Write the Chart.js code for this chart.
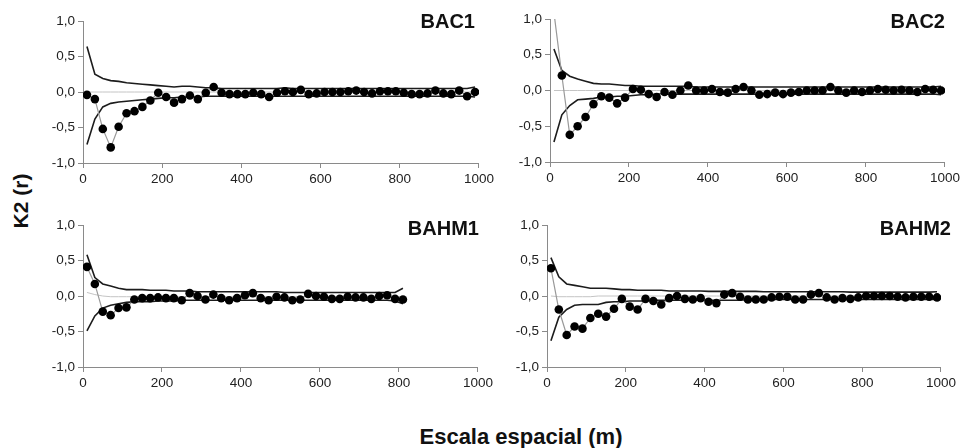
<!DOCTYPE html>
<html lang="es">
<head>
    <meta charset="UTF-8">
    <title>K2 (r) - Escala espacial</title>
    <script src="https://cdn.jsdelivr.net/npm/chart.js"></script>
    <style>
        body { margin: 0; background: #fff; width: 967px; height: 448px; position: relative; overflow: hidden; font-family: "Liberation Sans", Arial, sans-serif; }
        canvas { position: absolute; }
        .axis-title { position: absolute; font-weight: bold; color: #111; white-space: nowrap; line-height: 1; }
        #ylab { left: 20px; top: 201px; font-size: 21px; transform: translate(-50%, -50%) rotate(-90deg); }
        #xlab { left: 521px; top: 437px; font-size: 22px; transform: translate(-50%, -50%); }
    </style>
</head>
<body>
    <canvas id="c1"></canvas>
    <canvas id="c2"></canvas>
    <canvas id="c3"></canvas>
    <canvas id="c4"></canvas>
    <div class="axis-title" id="ylab">K2 (r)</div>
    <div class="axis-title" id="xlab">Escala espacial (m)</div>

    <script type="text/javascript">
        // distances (m)
        var xs = [10,30,50,70,90,110,130,150,170,190,210,230,250,270,290,310,330,350,370,390,
                  410,430,450,470,490,510,530,550,570,590,610,630,650,670,690,710,730,750,770,790,
                  810,830,850,870,890,910,930,950,970,990];
        var xTicks = [0, 200, 400, 600, 800, 1000];
        var yTicks = [-1, -0.5, 0, 0.5, 1];

        // BAC1
        var bac1Obs = [-0.04,-0.10,-0.52,-0.78,-0.49,-0.30,-0.27,-0.21,-0.12,-0.01,-0.07,-0.15,-0.10,-0.05,-0.10,-0.01,0.07,-0.01,-0.03,-0.03,
                       -0.03,-0.01,-0.03,-0.07,-0.01,0.01,0.00,0.03,-0.03,-0.02,0.00,0.00,0.00,0.01,0.02,0.00,-0.02,0.01,0.01,0.01,
                       -0.01,-0.03,-0.03,-0.02,0.02,-0.02,-0.03,0.02,-0.06,0.00];
        var bac1Up = [0.64,0.25,0.19,0.16,0.15,0.13,0.12,0.11,0.10,0.09,0.08,0.07,0.08,0.08,0.07,0.06,0.06,0.05,0.05,0.05,
                      0.05,0.05,0.05,0.05,0.05,0.06,0.05,0.05,0.05,0.05,0.05,0.05,0.05,0.05,0.05,0.05,0.05,0.05,0.05,0.05,
                      0.05,0.05,0.05,0.05,0.05,0.05,0.05,0.05,0.05,0.07];
        var bac1Low = [-0.74,-0.38,-0.21,-0.16,-0.14,-0.13,-0.12,-0.11,-0.10,-0.09,-0.08,-0.08,-0.07,-0.07,-0.07,-0.06,-0.06,-0.06,-0.06,-0.06,
                       -0.06,-0.06,-0.06,-0.06,-0.06,-0.06,-0.06,-0.06,-0.06,-0.06,-0.06,-0.06,-0.06,-0.06,-0.06,-0.06,-0.06,-0.06,-0.06,-0.06,
                       -0.06,-0.06,-0.06,-0.06,-0.06,-0.06,-0.06,-0.06,-0.06,-0.07];
        var bac1Mean = [0,0,0,0,0,0,0,0,0,0,0,0,0,0,0,0,0,0,0,0,0,0,0,0,0,0,0,0,0,0,0,0,0,0,0,0,0,0,0,0,0,0,0,0,0,0,0,0,0,0];

        // BAC2
        var bac2Obs = [1.09,0.21,-0.62,-0.50,-0.37,-0.19,-0.08,-0.10,-0.18,-0.10,0.02,0.01,-0.05,-0.09,-0.02,-0.06,0.00,0.07,0.00,0.00,
                       0.02,-0.02,-0.03,0.02,0.05,0.00,-0.06,-0.05,-0.03,-0.05,-0.03,-0.02,0.00,0.00,0.00,0.05,0.00,-0.03,0.00,-0.02,
                       0.00,0.02,0.01,0.00,0.01,0.00,-0.02,0.02,0.01,0.00];
        var bac2Up = [0.58,0.28,0.20,0.16,0.13,0.10,0.09,0.09,0.08,0.07,0.07,0.06,0.06,0.06,0.06,0.06,0.06,0.06,0.05,0.05,
                      0.05,0.05,0.05,0.05,0.05,0.05,0.05,0.05,0.05,0.05,0.05,0.05,0.05,0.05,0.05,0.05,0.05,0.05,0.05,0.05,
                      0.05,0.05,0.05,0.05,0.05,0.05,0.05,0.05,0.05,0.06];
        var bac2Low = [-0.72,-0.34,-0.21,-0.13,-0.12,-0.11,-0.09,-0.09,-0.08,-0.08,-0.07,-0.06,-0.06,-0.05,-0.05,-0.05,-0.05,-0.05,-0.05,-0.05,
                       -0.05,-0.05,-0.05,-0.05,-0.05,-0.05,-0.05,-0.05,-0.05,-0.05,-0.05,-0.05,-0.05,-0.05,-0.05,-0.05,-0.05,-0.05,-0.05,-0.05,
                       -0.05,-0.05,-0.05,-0.05,-0.05,-0.05,-0.05,-0.05,-0.05,-0.06];
        var bac2Mean = [0,0,0,0,0,0,0,0,0,0,0,0,0,0,0,0,0,0,0,0,0,0,0,0,0,0,0,0,0,0,0,0,0,0,0,0,0,0,0,0,0,0,0,0,0,0,0,0,0,0];

        // BAHM1 (only up to 810 m)
        var bahm1Obs = [0.41,0.17,-0.22,-0.27,-0.17,-0.16,-0.05,-0.03,-0.03,-0.02,-0.03,-0.03,-0.06,0.04,0.00,-0.05,0.02,-0.03,-0.06,-0.03,
                        0.01,0.04,-0.03,-0.06,-0.01,-0.02,-0.06,-0.05,0.03,0.00,-0.01,-0.04,-0.04,-0.01,-0.02,-0.02,-0.04,0.00,0.01,-0.04,
                        -0.05];
        var bahm1Up = [0.58,0.26,0.17,0.14,0.11,0.09,0.09,0.09,0.08,0.08,0.08,0.07,0.07,0.07,0.06,0.06,0.06,0.06,0.06,0.06,
                       0.06,0.06,0.06,0.06,0.06,0.05,0.05,0.05,0.05,0.05,0.05,0.05,0.05,0.05,0.05,0.05,0.05,0.05,0.05,0.05,
                       0.11];
        var bahm1Low = [-0.49,-0.28,-0.17,-0.13,-0.11,-0.09,-0.08,-0.08,-0.08,-0.07,-0.07,-0.07,-0.06,-0.06,-0.06,-0.06,-0.06,-0.06,-0.06,-0.06,
                        -0.06,-0.06,-0.06,-0.06,-0.06,-0.06,-0.06,-0.06,-0.06,-0.06,-0.06,-0.06,-0.06,-0.06,-0.06,-0.06,-0.06,-0.06,-0.06,-0.07,
                        -0.11];
        var bahm1Mean = [0.05,0.02,0.00,-0.01,-0.01,-0.01,-0.01,-0.01,-0.01,-0.01,-0.01,-0.01,-0.01,-0.01,-0.01,-0.01,-0.01,-0.01,-0.01,-0.01,
                         -0.01,-0.01,-0.01,-0.01,-0.01,-0.01,-0.01,-0.01,-0.01,-0.01,-0.01,-0.01,-0.01,-0.01,-0.01,-0.01,-0.01,-0.01,-0.01,-0.01,
                         -0.01];

        // BAHM2
        var bahm2Obs = [0.39,-0.19,-0.55,-0.43,-0.46,-0.31,-0.25,-0.29,-0.18,-0.04,-0.15,-0.19,-0.04,-0.07,-0.12,-0.03,0.00,-0.04,-0.05,-0.03,
                        -0.08,-0.10,0.02,0.04,-0.01,-0.05,-0.05,-0.05,-0.02,-0.01,-0.01,-0.05,-0.05,0.02,0.04,-0.02,-0.05,-0.03,-0.04,-0.02,
                        0.00,0.00,0.00,0.00,-0.01,-0.02,-0.01,-0.01,-0.01,-0.02];
        var bahm2Up = [0.54,0.27,0.17,0.15,0.13,0.11,0.11,0.11,0.10,0.09,0.09,0.08,0.08,0.08,0.08,0.07,0.07,0.07,0.07,0.07,
                       0.065,0.065,0.065,0.065,0.065,0.065,0.065,0.06,0.06,0.06,0.06,0.06,0.06,0.06,0.06,0.06,0.06,0.06,0.055,0.055,
                       0.055,0.055,0.055,0.055,0.055,0.055,0.055,0.055,0.055,0.06];
        var bahm2Low = [-0.63,-0.30,-0.19,-0.13,-0.12,-0.12,-0.12,-0.09,-0.08,-0.08,-0.07,-0.07,-0.07,-0.06,-0.06,-0.06,-0.06,-0.06,-0.06,-0.06,
                        -0.06,-0.06,-0.06,-0.06,-0.06,-0.05,-0.05,-0.05,-0.05,-0.05,-0.05,-0.05,-0.05,-0.05,-0.05,-0.05,-0.05,-0.05,-0.05,-0.05,
                        -0.05,-0.05,-0.05,-0.05,-0.05,-0.05,-0.05,-0.05,-0.05,-0.05];
        var bahm2Mean = [0,-0.01,-0.01,-0.01,-0.01,-0.01,0,0,0,0,0,0,0,0,0,0,0,0,0,0,0,0,0,0,0,0,0,0,0,0,0,0,0,0,0,0,0,0,0,0,0,0,0,0,0,0,0,0,0,0];

        // panel name drawn inside the plot, top right
        var panelName = {
            id: "panelName",
            afterDraw: function(chart) {
                var o = chart.options.plugins.panelName;
                var a = chart.chartArea;
                var ctx = chart.ctx;
                ctx.save();
                ctx.font = "bold 20px 'Liberation Sans', Arial, sans-serif";
                ctx.fillStyle = "#111";
                ctx.textAlign = "right";
                ctx.textBaseline = "alphabetic";
                ctx.fillText(o.text, a.right + o.dx, a.top + o.dy);
                ctx.restore();
            }
        };

        function pts(ys) {
            return ys.map(function(y, i) { return { x: xs[i], y: y }; });
        }

        function comma(v) {
            return Number(v).toFixed(1).replace(".", ",");
        }

        function makePanel(id, area, name, dx, dy, obs, up, low, mean) {
            var padL = 50, padT = 22, padR = 16, padB = 30;
            var canvas = document.getElementById(id);
            canvas.width = area.r - area.l + padL + padR;
            canvas.height = area.b - area.t + padT + padB;
            canvas.style.left = (area.l - padL) + "px";
            canvas.style.top = (area.t - padT) + "px";

            var tickFont = { family: "'Liberation Sans', Arial", size: 13.5 };

            return new Chart(canvas.getContext("2d"), {
                type: "line",
                data: {
                    datasets: [
                        { data: pts(obs), borderColor: "#999", borderWidth: 1.2, pointRadius: 4.3,
                          pointBackgroundColor: "#000", pointBorderColor: "#000", pointBorderWidth: 0 },
                        { data: pts(up), borderColor: "#1c1c1c", borderWidth: 1.6, pointRadius: 0 },
                        { data: pts(low), borderColor: "#1c1c1c", borderWidth: 1.6, pointRadius: 0 },
                        { data: pts(mean), borderColor: "#c4c4c4", borderWidth: 1, pointRadius: 0 }
                    ]
                },
                options: {
                    responsive: false,
                    animation: false,
                    events: [],
                    layout: { padding: { left: 0, top: padT, right: padR, bottom: 0 } },
                    plugins: {
                        legend: { display: false },
                        tooltip: { enabled: false },
                        panelName: { text: name, dx: dx, dy: dy }
                    },
                    scales: {
                        x: {
                            type: "linear", min: 0, max: 1000,
                            afterFit: function(s) { s.height = padB; },
                            afterBuildTicks: function(s) { s.ticks = xTicks.map(function(v) { return { value: v }; }); },
                            border: { color: "#8a8a8a", width: 1 },
                            grid: { drawOnChartArea: false, color: "#8a8a8a", tickLength: 5 },
                            ticks: { color: "#222", padding: 3, maxRotation: 0, font: tickFont,
                                     callback: function(v) { return String(v); } }
                        },
                        y: {
                            min: -1, max: 1,
                            afterFit: function(s) { s.width = padL; },
                            afterBuildTicks: function(s) { s.ticks = yTicks.map(function(v) { return { value: v }; }); },
                            border: { color: "#8a8a8a", width: 1 },
                            grid: { drawOnChartArea: false, color: "#8a8a8a", tickLength: 5 },
                            ticks: { color: "#222", padding: 3, callback: comma, font: tickFont }
                        }
                    }
                },
                plugins: [panelName]
            });
        }

        makePanel("c1", { l: 83, t: 21, r: 481, b: 163 }, "BAC1", -4, 7, bac1Obs, bac1Up, bac1Low, bac1Mean);
        makePanel("c2", { l: 550, t: 19, r: 947, b: 162 }, "BAC2", 0, 9, bac2Obs, bac2Up, bac2Low, bac2Mean);
        makePanel("c3", { l: 83, t: 225, r: 480, b: 367 }, "BAHM1", 1, 10, bahm1Obs, bahm1Up, bahm1Low, bahm1Mean);
        makePanel("c4", { l: 547, t: 225, r: 943, b: 367 }, "BAHM2", 10, 10, bahm2Obs, bahm2Up, bahm2Low, bahm2Mean);
    </script>
</body>
</html>
